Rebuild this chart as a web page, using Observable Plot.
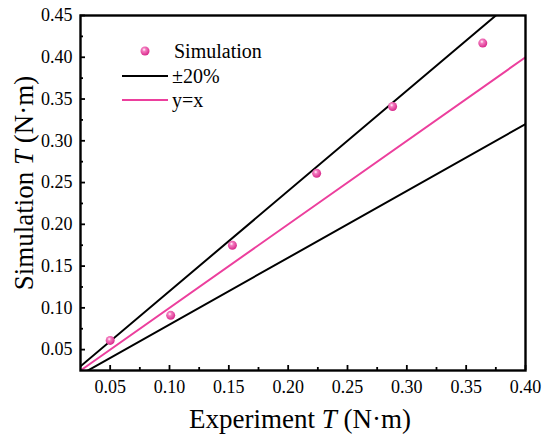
<!DOCTYPE html>
<html><head><meta charset="utf-8">
<script src="https://cdn.jsdelivr.net/npm/d3@7"></script>
<script src="https://cdn.jsdelivr.net/npm/@observablehq/plot@0.6"></script>
<style>body{margin:0;background:#fff}</style>
</head><body><div id="chart"></div>
<script>
const expT = [0.050, 0.101, 0.153, 0.224, 0.288, 0.364];
const simT = [0.061, 0.091, 0.175, 0.261, 0.341, 0.417];
const majorTicks = [0.05, 0.10, 0.15, 0.20, 0.25, 0.30, 0.35, 0.40];
const yMajorTicks = [0.05, 0.10, 0.15, 0.20, 0.25, 0.30, 0.35, 0.40, 0.45];
const xMinorTicks = [0.075, 0.125, 0.175, 0.225, 0.275, 0.325, 0.375];
const yMinorTicks = [0.075, 0.125, 0.175, 0.225, 0.275, 0.325, 0.375, 0.425];
const lineX = [0.025, 0.40];
const bandFactors = [1.2, 0.8];
const legendLabels = ["Simulation", "±20%", "y=x"];
const pink = "#ec3f9d";

const pts = expT.map((x, i) => ({x, y: simT[i]}));
const idLine = lineX.map(x => ({x, y: x}));
const bands = bandFactors.flatMap(k => lineX.map(x => ({k, x, y: k * x})));

const plot = Plot.plot({
  width: 550, height: 440,
  marginLeft: 80, marginRight: 25, marginTop: 15, marginBottom: 70,
  style: {fontFamily: "Liberation Serif", fontSize: "18px", color: "#000", background: "#fff"},
  x: {domain: [0.025, 0.40]},
  y: {domain: [0.025, 0.45]},
  marks: [
    Plot.line(bands, {x: "x", y: "y", z: "k", stroke: "#000", strokeWidth: 2, clip: true}),
    Plot.line(idLine, {x: "x", y: "y", stroke: pink, strokeWidth: 2, clip: true}),
    Plot.dot(pts, {x: "x", y: "y", r: 4.5, fill: "url(#ball)", stroke: "none"}),
    Plot.axisX(majorTicks, {tickSize: 0, tickPadding: 10, tickFormat: d3.format(".2f"), fontSize: 18, label: null}),
    Plot.axisX(majorTicks, {tickSize: 5, dy: -5, tickFormat: () => "", label: null, strokeWidth: 1.8}),
    Plot.axisX(xMinorTicks, {tickSize: 3, dy: -3, tickFormat: () => "", label: null, strokeWidth: 1.8}),
    Plot.axisY(yMajorTicks, {tickSize: 0, tickPadding: 8, tickFormat: d3.format(".2f"), fontSize: 18, label: null}),
    Plot.axisY(yMajorTicks, {tickSize: 5, dx: 5, tickFormat: () => "", label: null, strokeWidth: 1.8}),
    Plot.axisY(yMinorTicks, {tickSize: 3, dx: 3, tickFormat: () => "", label: null, strokeWidth: 1.8}),
    Plot.frame({stroke: "#000", strokeWidth: 2.4})
  ]
});

const svg = d3.select(plot);
const defs = svg.insert("defs", ":first-child");
const g = defs.append("radialGradient").attr("id", "ball").attr("cx", "40%").attr("cy", "35%").attr("r", "65%");
g.append("stop").attr("offset", "0%").attr("stop-color", "#ffffff");
g.append("stop").attr("offset", "30%").attr("stop-color", "#f47cc0");
g.append("stop").attr("offset", "100%").attr("stop-color", "#d8288a");

// axis titles
const xt = svg.append("text").attr("x", 300).attr("y", 428).attr("text-anchor", "middle")
  .attr("fill", "#000").attr("class", "ttl");
xt.append("tspan").text("Experiment ");
xt.append("tspan").attr("font-style", "italic").text("T");
xt.append("tspan").text(" (N·m)");

const yt = svg.append("text").attr("transform", "translate(33,183) rotate(-90)").attr("text-anchor", "middle")
  .attr("fill", "#000").attr("class", "ttl");
yt.append("tspan").text("Simulation ");
yt.append("tspan").attr("font-style", "italic").text("T");
yt.append("tspan").text(" (N·m)");

// legend
const lg = svg.append("g").attr("fill", "#000").attr("class", "lg");
lg.append("circle").attr("cx", 145).attr("cy", 51).attr("r", 4.5).attr("fill", "url(#ball)");
lg.append("text").attr("x", 174).attr("y", 58).text(legendLabels[0]);
lg.append("line").attr("x1", 122).attr("x2", 168).attr("y1", 76).attr("y2", 76).attr("stroke", "#000").attr("stroke-width", 2);
lg.append("text").attr("x", 172).attr("y", 83).text(legendLabels[1]);
lg.append("line").attr("x1", 122).attr("x2", 168).attr("y1", 100).attr("y2", 100).attr("stroke", pink).attr("stroke-width", 2);
lg.append("text").attr("x", 172).attr("y", 107).text(legendLabels[2]);
lg.selectAll("text").style("text-anchor", "start");

svg.selectAll("text").style("font-family", "'Liberation Serif', 'Times New Roman', serif").style("font-size", "18px");
svg.selectAll("g.lg text").style("font-size", "20px");
svg.selectAll("text.ttl").style("font-size", "27px");

document.getElementById("chart").appendChild(plot);
</script>
</body></html>
